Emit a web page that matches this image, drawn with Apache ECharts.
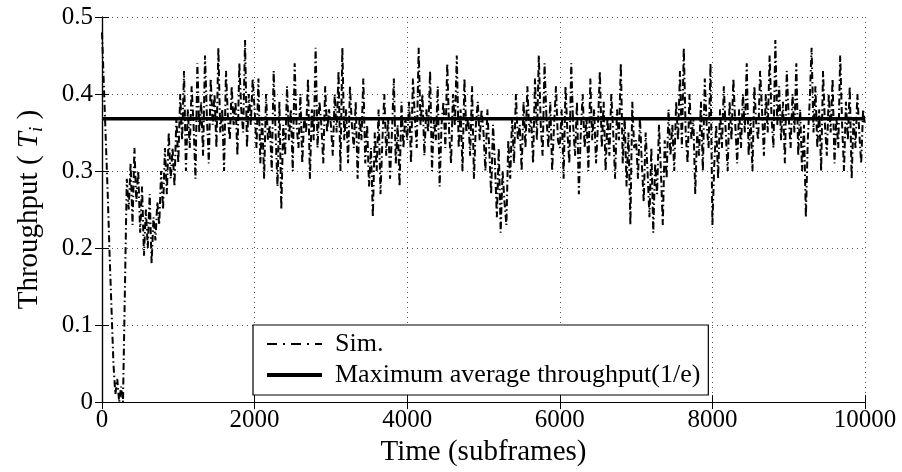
<!DOCTYPE html>
<html><head><meta charset="utf-8">
<script src="https://cdn.jsdelivr.net/npm/echarts@6/dist/echarts.min.js"></script>
<style>html,body{margin:0;padding:0;background:#fff}#c{width:902px;height:472px}</style>
</head><body><div id="c"></div>
<script>
var step = 25;
var xTicks = [0, 2000, 4000, 6000, 8000, 10000];
var yTicks = [0, 0.1, 0.2, 0.3, 0.4, 0.5];
var maxAvg = 0.3679;
var sim = [
0.48,0.41,0.34,0.27,0.19,0.12,0.05,0.01,0.03,0.00,0.02,0.00,0.00,0.29,0.25,0.31,0.23,0.33,0.26,0.30,0.22,0.28,0.19,0.25,0.20,0.27,0.18,0.24,0.21,0.26,0.23,0.30,0.25,0.33,0.27,0.35,0.29,0.33,0.28,0.37,
0.31,0.40,0.34,0.43,0.30,0.38,0.33,0.41,0.36,0.29,0.44,0.35,0.39,0.32,0.45,0.37,0.31,0.42,0.36,0.40,0.33,0.46,0.35,0.38,0.30,0.43,0.37,0.34,0.41,0.36,0.39,0.32,0.44,0.38,0.35,0.47,0.33,0.40,0.36,0.42,
0.38,0.33,0.42,0.31,0.37,0.29,0.40,0.34,0.36,0.30,0.43,0.35,0.28,0.39,0.25,0.36,0.32,0.41,0.34,0.38,0.30,0.44,0.36,0.33,0.40,0.31,0.37,0.35,0.42,0.29,0.38,0.34,0.46,0.33,0.39,0.36,0.31,0.41,0.35,0.38,
0.36,0.32,0.40,0.35,0.43,0.30,0.46,0.34,0.38,0.31,0.41,0.36,0.33,0.39,0.29,0.37,0.34,0.42,0.31,0.36,0.28,0.33,0.24,0.35,0.30,0.38,0.27,0.34,0.40,0.32,0.37,0.29,0.35,0.42,0.31,0.36,0.28,0.39,0.33,0.37,
0.34,0.39,0.31,0.42,0.37,0.33,0.46,0.36,0.40,0.32,0.38,0.35,0.43,0.30,0.37,0.34,0.41,0.28,0.36,0.39,0.33,0.44,0.35,0.31,0.40,0.36,0.45,0.33,0.38,0.30,0.42,0.35,0.37,0.32,0.41,0.29,0.36,0.39,0.34,0.38,
0.35,0.30,0.38,0.33,0.27,0.36,0.31,0.24,0.33,0.22,0.30,0.26,0.23,0.34,0.29,0.37,0.31,0.40,0.34,0.36,0.30,0.39,0.33,0.41,0.35,0.37,0.31,0.42,0.34,0.45,0.36,0.32,0.44,0.37,0.33,0.39,0.30,0.36,0.41,0.34,
0.33,0.38,0.29,0.41,0.35,0.31,0.44,0.36,0.32,0.39,0.27,0.35,0.40,0.33,0.37,0.30,0.42,0.34,0.38,0.31,0.36,0.43,0.33,0.39,0.30,0.37,0.32,0.40,0.35,0.29,0.38,0.34,0.44,0.31,0.37,0.28,0.35,0.23,0.39,0.33,
0.34,0.29,0.37,0.31,0.26,0.35,0.30,0.24,0.33,0.22,0.31,0.27,0.36,0.30,0.23,0.34,0.29,0.38,0.32,0.36,0.30,0.39,0.34,0.43,0.33,0.46,0.35,0.31,0.40,0.34,0.37,0.27,0.35,0.32,0.39,0.30,0.42,0.36,0.33,0.44,
0.23,0.31,0.36,0.29,0.38,0.33,0.41,0.35,0.30,0.39,0.34,0.42,0.36,0.31,0.38,0.33,0.40,0.35,0.44,0.32,0.37,0.30,0.41,0.36,0.34,0.43,0.38,0.32,0.40,0.35,0.45,0.37,0.33,0.47,0.36,0.41,0.34,0.39,0.31,0.43,
0.37,0.33,0.40,0.35,0.44,0.32,0.38,0.30,0.36,0.24,0.34,0.39,0.46,0.35,0.41,0.33,0.38,0.30,0.43,0.36,0.32,0.40,0.35,0.42,0.31,0.37,0.33,0.45,0.36,0.30,0.39,0.34,0.41,0.29,0.37,0.33,0.40,0.35,0.31,0.38,0.36
];
var simData = sim.map(function (v, i) { return [i * step, v]; });
var avgData = [[xTicks[0], maxAvg], [xTicks[xTicks.length - 1], maxAvg]];

var FONT = '"Liberation Serif","DejaVu Serif",serif';
var chart = echarts.init(document.getElementById('c'));
var gridLine = { show: true, lineStyle: { color: '#555', type: [1, 4], width: 1 } };
chart.setOption({
  animation: false,
  grid: { left: 102, right: 37, top: 17, bottom: 68 },
  xAxis: [{
    type: 'value', min: xTicks[0], max: xTicks[xTicks.length - 1], interval: 2000,
    name: 'Time (subframes)', nameLocation: 'middle', nameGap: 33,
    nameTextStyle: { fontFamily: FONT, fontSize: 29, color: '#000' },
    axisLine: { lineStyle: { color: '#000', width: 1.2 } },
    axisTick: { inside: true, length: 7, lineStyle: { color: '#000' } },
    axisLabel: { fontFamily: FONT, fontSize: 25, color: '#000', margin: 6,
      formatter: function (v) { return String(v); } },
    splitLine: gridLine
  }, {
    type: 'value', min: xTicks[0], max: xTicks[xTicks.length - 1], interval: 2000, position: 'top',
    axisLine: { show: true, lineStyle: { color: '#000', width: 1.2 } },
    axisTick: { show: true, inside: true, length: 7, lineStyle: { color: '#000' } },
    axisLabel: { show: false }, splitLine: { show: false }
  }],
  yAxis: [{
    type: 'value', min: yTicks[0], max: yTicks[yTicks.length - 1], interval: 0.1,
    name: 'Throughput ( {i|T}{s|i} )', nameLocation: 'middle', nameGap: 56, nameRotate: 90,
    nameTextStyle: { fontFamily: FONT, fontSize: 29, color: '#000',
      rich: { i: { fontFamily: FONT, fontSize: 29, fontStyle: 'italic', color: '#000' },
              s: { fontFamily: FONT, fontSize: 19, fontStyle: 'italic', color: '#000', padding: [14, 0, 0, 0] } } },
    axisLine: { show: true, lineStyle: { color: '#000', width: 1.2 } },
    axisTick: { show: true, inside: true, length: 7, lineStyle: { color: '#000' } },
    axisLabel: { fontFamily: FONT, fontSize: 25, color: '#000', margin: 9,
      formatter: function (v) { return v === 0 ? '0' : v.toFixed(1); } },
    splitLine: gridLine
  }, {
    type: 'value', min: yTicks[0], max: yTicks[yTicks.length - 1], interval: 0.1, position: 'right',
    axisLine: { show: true, lineStyle: { color: '#000', width: 1.2 } },
    axisTick: { show: true, inside: true, length: 7, lineStyle: { color: '#000' } },
    axisLabel: { show: false }, splitLine: { show: false }
  }],
  legend: {
    orient: 'vertical', left: 253, top: 325, width: 459,
    backgroundColor: '#fff', borderColor: '#000', borderWidth: 1.2, borderRadius: 0,
    padding: [6, 8, 7, 12], itemGap: 5, itemWidth: 55, itemHeight: 28,
    itemStyle: { opacity: 0 },
    textStyle: { fontFamily: FONT, fontSize: 26, color: '#000', padding: [0, 0, 0, 8] },
    data: [
      { name: 'Sim.', lineStyle: { width: 2, type: [10, 6, 2, 6] } },
      { name: 'Maximum average throughput(1/e)', lineStyle: { width: 4 } }
    ]
  },
  series: [{
    name: 'Sim.', type: 'line', data: simData, symbol: 'none', z: 2,
    lineStyle: { color: '#000', width: 2, type: [7, 3, 1.5, 3] },
    itemStyle: { color: '#000' }
  }, {
    name: 'Maximum average throughput(1/e)', type: 'line', data: avgData, symbol: 'none', z: 3,
    lineStyle: { color: '#000', width: 3.5 }, itemStyle: { color: '#000' }
  }]
});
</script></body></html>
